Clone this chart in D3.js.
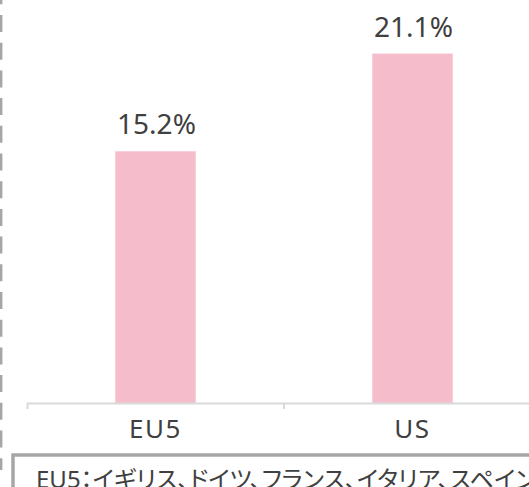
<!DOCTYPE html>
<html>
<head>
<meta charset="utf-8">
<script src="https://cdn.jsdelivr.net/npm/d3@7"></script>
<style>
  html, body { margin: 0; padding: 0; background: #fff; overflow: hidden; }
  svg { display: block; font-family: "Noto Sans", "Noto Sans CJK JP", sans-serif; }
</style>
</head>
<body>
<div id="chart"></div>
<script>
// データ
var categories = ["EU5", "US"];
var values = [15.2, 21.1];
var valueLabels = ["15.2%", "21.1%"];
var note = "EU5：イギリス、ドイツ、フランス、イタリア、スペイン";

var width = 529, height = 487;
var baseY = 403;
var textColor = "#404040";

var svg = d3.select("#chart")
  .append("svg")
  .attr("width", width)
  .attr("height", height);

// 左の点線
svg.append("line")
  .attr("x1", 1.2).attr("x2", 1.2)
  .attr("y1", -12.7).attr("y2", 470)
  .attr("stroke", "#a6a6a6")
  .attr("stroke-width", 2.4)
  .attr("stroke-dasharray", "17 10.7");

var x = d3.scaleBand()
  .domain(categories)
  .range([27, 27 + 257 * categories.length]);

var y = d3.scaleLinear()
  .domain([0, 24])
  .range([baseY, baseY - 24 * 16.56]);

var barW = x.bandwidth() * 0.313;

// 棒
svg.append("g").attr("class", "g-bars")
  .selectAll("rect")
  .data(values)
  .enter()
  .append("rect")
  .attr("x", function(d, i) { return x(categories[i]) + x.bandwidth() / 2 - barW / 2; })
  .attr("y", function(d) { return y(d); })
  .attr("width", barW)
  .attr("height", function(d) { return y(0) - y(d); })
  .attr("fill", "#f5bccb");

// 軸
var axis = d3.axisBottom(x).tickSize(0).tickSizeOuter(6).tickPadding(17);
var gAxis = svg.append("g")
  .attr("transform", "translate(0," + baseY + ")")
  .call(axis);
gAxis.select(".domain")
  .attr("stroke", "#d9d9d9")
  .attr("stroke-width", 2);
gAxis.selectAll(".tick text")
  .attr("fill", textColor)
  .attr("font-size", 26)
  .attr("font-family", "'Noto Sans', sans-serif")
  .attr("dy", "0.71em")
  .style("letter-spacing", "1.5px");

// 区切り目盛り
gAxis.selectAll(".sep")
  .data(categories.slice(1))
  .enter()
  .append("line")
  .attr("class", "sep")
  .attr("x1", function(d) { return x(d); })
  .attr("x2", function(d) { return x(d); })
  .attr("y1", 0).attr("y2", 6)
  .attr("stroke", "#d9d9d9")
  .attr("stroke-width", 2);

// 数値ラベル
svg.append("g").attr("class", "g-labels")
  .selectAll("text")
  .data(values)
  .enter()
  .append("text")
  .attr("x", function(d, i) { return x(categories[i]) + x.bandwidth() / 2 + 1; })
  .attr("y", function(d) { return y(d) - 17; })
  .attr("text-anchor", "middle")
  .attr("fill", textColor)
  .attr("font-size", 28)
  .text(function(d, i) { return valueLabels[i]; });

// 注釈ボックス
svg.append("rect")
  .attr("x", 13).attr("y", 455)
  .attr("width", 560).attr("height", 80)
  .attr("fill", "none")
  .attr("stroke", "#a6a6a6")
  .attr("stroke-width", 3.5);

svg.append("text")
  .attr("x", 36).attr("y", 488)
  .attr("fill", textColor)
  .attr("font-size", 24)
  .style("font-feature-settings", "'palt'")
  .text(note);
</script>
</body>
</html>
